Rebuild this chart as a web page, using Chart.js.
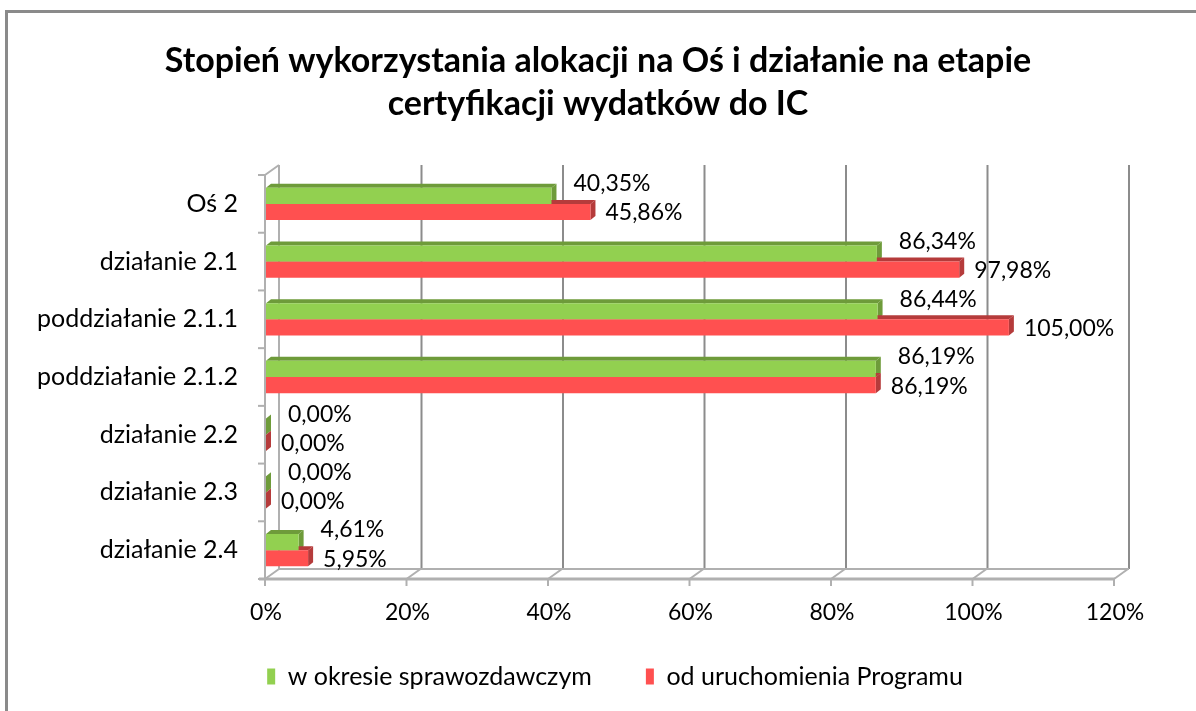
<!DOCTYPE html>
<html>
<head>
<meta charset="utf-8">
<script src="https://cdn.jsdelivr.net/npm/chart.js@4"></script>
<style>
  body { margin: 0; background: #fff; }
  #frame { position: absolute; left: 5px; top: 10px; width: 1300px; height: 800px;
           border-top: 3px solid #8a8a8a; border-left: 3px solid #8a8a8a; }
  #wrap { position: absolute; left: 0; top: 0; width: 1196px; height: 711px; }
</style>
</head>
<body>
<div id="frame"></div>
<div id="wrap"><canvas id="myChart" width="1196" height="711"></canvas></div>
<script>
var categories = ['Oś 2', 'działanie 2.1', 'poddziałanie 2.1.1', 'poddziałanie 2.1.2', 'działanie 2.2', 'działanie 2.3', 'działanie 2.4'];
var wOkresie = [40.35, 86.34, 86.44, 86.19, 0, 0, 4.61];
var odUruchomienia = [45.86, 97.98, 105.00, 86.19, 0, 0, 5.95];
var xTicks = [0, 20, 40, 60, 80, 100, 120];
var seriesNames = ['w okresie sprawozdawczym', 'od uruchomienia Programu'];

var FONT = 'Lato, Calibri, sans-serif';
var DX = 14, DY = -10;     // glebokosc scian 3D
var BX = 5, BY = -4;       // glebokosc slupkow
var faceColors = ['#92d050', '#ff5050'];
var darkColors = ['#6e9b3a', '#b53b3b'];

function fmt(v) {
    return v.toFixed(2).replace('.', ',') + '%';
}

// tytul wysrodkowany na calej szerokosci, legenda nizej
var placeBlocks = {
    id: 'placeBlocks',
    afterLayout: function(chart) {
        chart.titleBlock.left = 0;
        chart.titleBlock.right = chart.width;
        chart.legend.left = 98;
        chart.legend.right = 1132;
        chart.legend.top = 610;
    }
};

// sciany, siatka i osie w stylu Excel 3D
var walls = {
    id: 'walls',
    beforeDatasetsDraw: function(chart) {
        var ctx = chart.ctx, a = chart.chartArea, xs = chart.scales.x;
        var left = a.left - 1;
        ctx.save();
        // linie siatki na tylnej scianie
        ctx.strokeStyle = '#8c8c8c';
        ctx.lineWidth = 2;
        xTicks.forEach(function(t) {
            var px = xs.getPixelForValue(t) + DX;
            if (t === 0) return;
            ctx.beginPath();
            ctx.moveTo(px, a.top + DY);
            ctx.lineTo(px, a.bottom + DY);
            ctx.stroke();
        });
        // lewa sciana
        ctx.strokeStyle = '#b0b0b0';
        ctx.beginPath();
        ctx.moveTo(left + DX, a.top + DY);
        ctx.lineTo(left + DX, a.bottom + DY);
        ctx.moveTo(left, a.top);
        ctx.lineTo(left + DX, a.top + DY);
        ctx.moveTo(left, a.top);
        ctx.lineTo(left, a.bottom);
        ctx.stroke();
        // podloga
        ctx.beginPath();
        ctx.moveTo(left + DX, a.bottom + DY);
        ctx.lineTo(xs.getPixelForValue(120) + DX, a.bottom + DY);
        ctx.stroke();
        xTicks.forEach(function(t) {
            var px = xs.getPixelForValue(t) - 1;
            ctx.beginPath();
            ctx.moveTo(px, a.bottom);
            ctx.lineTo(px + DX, a.bottom + DY);
            ctx.stroke();
            ctx.beginPath();
            ctx.moveTo(px, a.bottom);
            ctx.lineTo(px, a.bottom + 7);
            ctx.stroke();
        });
        ctx.lineWidth = 3;
        ctx.beginPath();
        ctx.moveTo(left - 6, a.bottom);
        ctx.lineTo(xs.getPixelForValue(120), a.bottom);
        ctx.stroke();
        // znaczniki kategorii
        ctx.lineWidth = 2;
        for (var i = 0; i <= categories.length; i++) {
            var py = a.top + (a.bottom - a.top) * i / categories.length;
            ctx.beginPath();
            ctx.moveTo(left - 7, py);
            ctx.lineTo(left, py);
            ctx.stroke();
        }
        // gorne i boczne sciany slupkow
        chart.data.datasets.forEach(function(ds, di) {
            chart.getDatasetMeta(di).data.forEach(function(bar) {
                var top = bar.y - bar.height / 2, bottom = bar.y + bar.height / 2;
                ctx.fillStyle = darkColors[di];
                ctx.beginPath();
                ctx.moveTo(bar.base, top);
                ctx.lineTo(bar.x, top);
                ctx.lineTo(bar.x + BX, top + BY);
                ctx.lineTo(bar.base + BX, top + BY);
                ctx.closePath();
                ctx.fill();
                ctx.beginPath();
                ctx.moveTo(bar.x, top);
                ctx.lineTo(bar.x + BX, top + BY);
                ctx.lineTo(bar.x + BX, bottom + BY);
                ctx.lineTo(bar.x, bottom);
                ctx.closePath();
                ctx.fill();
            });
        });
        ctx.restore();
    }
};

// etykiety wartosci
var labels = {
    id: 'valueLabels',
    afterDatasetsDraw: function(chart) {
        var ctx = chart.ctx;
        ctx.save();
        ctx.font = '23px ' + FONT;
        ctx.fillStyle = '#000';
        ctx.textAlign = 'left';
        ctx.textBaseline = 'middle';
        chart.data.datasets.forEach(function(ds, di) {
            chart.getDatasetMeta(di).data.forEach(function(bar, i) {
                var dx = di === 0 ? 22 : 15;
                var dy = di === 0 ? -12 : 1;
                ctx.fillText(fmt(ds.data[i]), bar.x + dx, bar.y + dy);
            });
        });
        ctx.restore();
    }
};

var ctx = document.getElementById('myChart').getContext('2d');
var chart = new Chart(ctx, {
    type: 'bar',
    data: {
        labels: categories,
        datasets: [
            { label: seriesNames[0], data: wOkresie, backgroundColor: faceColors[0] },
            { label: seriesNames[1], data: odUruchomienia, backgroundColor: faceColors[1] }
        ]
    },
    options: {
        indexAxis: 'y',
        responsive: false,
        animation: false,
        categoryPercentage: 0.56,
        barPercentage: 1.0,
        layout: { padding: { left: 20, right: 81, top: 0, bottom: -5 } },
        scales: {
            x: {
                min: 0, max: 120,
                afterBuildTicks: function(scale) {
                    scale.ticks = xTicks.map(function(v) { return { value: v }; });
                },
                afterFit: function(scale) { scale.height = 48; },
                grid: { display: false, drawTicks: false },
                border: { display: false },
                ticks: {
                    padding: 20,
                    color: '#000',
                    font: { family: FONT, size: 23 },
                    callback: function(v) { return v + '%'; }
                }
            },
            y: {
                afterFit: function(scale) { scale.width = 246; },
                grid: { display: false, drawTicks: false },
                border: { display: false },
                ticks: {
                    padding: 28,
                    color: '#000',
                    font: { family: FONT, size: 25 }
                }
            }
        },
        plugins: {
            title: {
                display: true,
                text: ['Stopień wykorzystania alokacji na Oś i działanie na etapie', 'certyfikacji wydatków do IC'],
                color: '#000',
                font: { family: FONT, size: 34, weight: 'bold', lineHeight: 1.265 },
                padding: { top: 40, bottom: 49 }
            },
            legend: {
                position: 'bottom',
                labels: {
                    boxWidth: 8,
                    boxHeight: 16,
                    padding: 54,
                    color: '#000',
                    font: { family: FONT, size: 25 }
                }
            },
            tooltip: { enabled: false }
        }
    },
    plugins: [placeBlocks, walls, labels]
});
</script>
</body>
</html>
